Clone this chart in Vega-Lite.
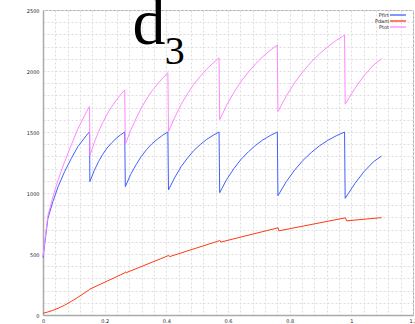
{
  "$schema": "https://vega.github.io/schema/vega-lite/v6.json",
  "width": 370,
  "height": 305,
  "autosize": {"type": "none"},
  "padding": {"left": 43, "top": 10, "right": 2, "bottom": 9},
  "background": "white",
  "config": {
    "view": {"stroke": "#aaaaaa", "strokeWidth": 1},
    "axis": {
      "grid": true,
      "gridDash": [2, 2],
      "gridColor": "#dddddd",
      "gridWidth": 1,
      "domainColor": "#aaaaaa",
      "domainWidth": 1.5,
      "ticks": false,
      "labelFontSize": 5,
      "labelFont": "DejaVu Sans",
      "labelColor": "#222222",
      "labelOverlap": false,
      "labelFlush": false,
      "title": null
    }
  },
  "layer": [
    {
      "data": {
        "values": [
          {"s": "Pfirt", "x": 0, "y": 470}, {"s": "Pfirt", "x": 0.016, "y": 793}, {"s": "Pfirt", "x": 0.032, "y": 929}, {"s": "Pfirt", "x": 0.049, "y": 1052}, {"s": "Pfirt", "x": 0.07, "y": 1175}, {"s": "Pfirt", "x": 0.092, "y": 1284}, {"s": "Pfirt", "x": 0.113, "y": 1380}, {"s": "Pfirt", "x": 0.146, "y": 1489}, {"s": "Pfirt", "x": 0.151, "y": 1500},
          {"s": "Pfirt", "x": 0.152, "y": 1093}, {"s": "Pfirt", "x": 0.166, "y": 1183}, {"s": "Pfirt", "x": 0.18, "y": 1257}, {"s": "Pfirt", "x": 0.194, "y": 1318}, {"s": "Pfirt", "x": 0.208, "y": 1369}, {"s": "Pfirt", "x": 0.223, "y": 1412}, {"s": "Pfirt", "x": 0.237, "y": 1447}, {"s": "Pfirt", "x": 0.251, "y": 1476}, {"s": "Pfirt", "x": 0.265, "y": 1500},
          {"s": "Pfirt", "x": 0.267, "y": 1052}, {"s": "Pfirt", "x": 0.284, "y": 1151}, {"s": "Pfirt", "x": 0.302, "y": 1232}, {"s": "Pfirt", "x": 0.319, "y": 1300}, {"s": "Pfirt", "x": 0.336, "y": 1356}, {"s": "Pfirt", "x": 0.353, "y": 1403}, {"s": "Pfirt", "x": 0.371, "y": 1441}, {"s": "Pfirt", "x": 0.388, "y": 1474}, {"s": "Pfirt", "x": 0.405, "y": 1500},
          {"s": "Pfirt", "x": 0.407, "y": 1025}, {"s": "Pfirt", "x": 0.428, "y": 1130}, {"s": "Pfirt", "x": 0.448, "y": 1216}, {"s": "Pfirt", "x": 0.469, "y": 1288}, {"s": "Pfirt", "x": 0.489, "y": 1348}, {"s": "Pfirt", "x": 0.51, "y": 1397}, {"s": "Pfirt", "x": 0.53, "y": 1438}, {"s": "Pfirt", "x": 0.551, "y": 1472}, {"s": "Pfirt", "x": 0.571, "y": 1500},
          {"s": "Pfirt", "x": 0.573, "y": 1003}, {"s": "Pfirt", "x": 0.596, "y": 1112}, {"s": "Pfirt", "x": 0.62, "y": 1203}, {"s": "Pfirt", "x": 0.643, "y": 1278}, {"s": "Pfirt", "x": 0.667, "y": 1340}, {"s": "Pfirt", "x": 0.69, "y": 1392}, {"s": "Pfirt", "x": 0.713, "y": 1435}, {"s": "Pfirt", "x": 0.737, "y": 1471}, {"s": "Pfirt", "x": 0.76, "y": 1500},
          {"s": "Pfirt", "x": 0.762, "y": 978}, {"s": "Pfirt", "x": 0.789, "y": 1093}, {"s": "Pfirt", "x": 0.816, "y": 1188}, {"s": "Pfirt", "x": 0.843, "y": 1267}, {"s": "Pfirt", "x": 0.87, "y": 1332}, {"s": "Pfirt", "x": 0.897, "y": 1387}, {"s": "Pfirt", "x": 0.924, "y": 1432}, {"s": "Pfirt", "x": 0.951, "y": 1469}, {"s": "Pfirt", "x": 0.978, "y": 1500},
          {"s": "Pfirt", "x": 0.98, "y": 956}, {"s": "Pfirt", "x": 1.011, "y": 1076}, {"s": "Pfirt", "x": 1.041, "y": 1175}, {"s": "Pfirt", "x": 1.072, "y": 1257}, {"s": "Pfirt", "x": 1.098, "y": 1303},
          {"s": "Pdam", "x": 0, "y": 14}, {"s": "Pdam", "x": 0.016, "y": 25}, {"s": "Pdam", "x": 0.032, "y": 38}, {"s": "Pdam", "x": 0.049, "y": 55}, {"s": "Pdam", "x": 0.07, "y": 80}, {"s": "Pdam", "x": 0.092, "y": 112}, {"s": "Pdam", "x": 0.113, "y": 145}, {"s": "Pdam", "x": 0.146, "y": 200}, {"s": "Pdam", "x": 0.152, "y": 212},
          {"s": "Pdam", "x": 0.265, "y": 345}, {"s": "Pdam", "x": 0.267, "y": 354}, {"s": "Pdam", "x": 0.27, "y": 347},
          {"s": "Pdam", "x": 0.405, "y": 485}, {"s": "Pdam", "x": 0.407, "y": 491}, {"s": "Pdam", "x": 0.41, "y": 478},
          {"s": "Pdam", "x": 0.571, "y": 608}, {"s": "Pdam", "x": 0.573, "y": 613}, {"s": "Pdam", "x": 0.577, "y": 598},
          {"s": "Pdam", "x": 0.76, "y": 713}, {"s": "Pdam", "x": 0.762, "y": 717}, {"s": "Pdam", "x": 0.765, "y": 690},
          {"s": "Pdam", "x": 0.978, "y": 795}, {"s": "Pdam", "x": 0.98, "y": 799}, {"s": "Pdam", "x": 0.985, "y": 772},
          {"s": "Pdam", "x": 1.098, "y": 798},
          {"s": "Ptot", "x": 0, "y": 484}, {"s": "Ptot", "x": 0.016, "y": 818}, {"s": "Ptot", "x": 0.032, "y": 967}, {"s": "Ptot", "x": 0.049, "y": 1107}, {"s": "Ptot", "x": 0.07, "y": 1255}, {"s": "Ptot", "x": 0.092, "y": 1396}, {"s": "Ptot", "x": 0.113, "y": 1525}, {"s": "Ptot", "x": 0.146, "y": 1689}, {"s": "Ptot", "x": 0.151, "y": 1710},
          {"s": "Ptot", "x": 0.152, "y": 1305}, {"s": "Ptot", "x": 0.166, "y": 1412}, {"s": "Ptot", "x": 0.18, "y": 1502}, {"s": "Ptot", "x": 0.194, "y": 1579}, {"s": "Ptot", "x": 0.208, "y": 1647}, {"s": "Ptot", "x": 0.223, "y": 1708}, {"s": "Ptot", "x": 0.237, "y": 1759}, {"s": "Ptot", "x": 0.251, "y": 1805}, {"s": "Ptot", "x": 0.265, "y": 1845},
          {"s": "Ptot", "x": 0.267, "y": 1399}, {"s": "Ptot", "x": 0.284, "y": 1512}, {"s": "Ptot", "x": 0.302, "y": 1612}, {"s": "Ptot", "x": 0.319, "y": 1697}, {"s": "Ptot", "x": 0.336, "y": 1771}, {"s": "Ptot", "x": 0.353, "y": 1835}, {"s": "Ptot", "x": 0.371, "y": 1891}, {"s": "Ptot", "x": 0.388, "y": 1942}, {"s": "Ptot", "x": 0.405, "y": 1985},
          {"s": "Ptot", "x": 0.407, "y": 1503}, {"s": "Ptot", "x": 0.428, "y": 1623}, {"s": "Ptot", "x": 0.448, "y": 1726}, {"s": "Ptot", "x": 0.469, "y": 1815}, {"s": "Ptot", "x": 0.489, "y": 1891}, {"s": "Ptot", "x": 0.51, "y": 1956}, {"s": "Ptot", "x": 0.53, "y": 2013}, {"s": "Ptot", "x": 0.551, "y": 2064}, {"s": "Ptot", "x": 0.571, "y": 2108},
          {"s": "Ptot", "x": 0.573, "y": 1601}, {"s": "Ptot", "x": 0.596, "y": 1722}, {"s": "Ptot", "x": 0.62, "y": 1828}, {"s": "Ptot", "x": 0.643, "y": 1918}, {"s": "Ptot", "x": 0.667, "y": 1994}, {"s": "Ptot", "x": 0.69, "y": 2061}, {"s": "Ptot", "x": 0.713, "y": 2118}, {"s": "Ptot", "x": 0.737, "y": 2169}, {"s": "Ptot", "x": 0.76, "y": 2213},
          {"s": "Ptot", "x": 0.762, "y": 1668}, {"s": "Ptot", "x": 0.789, "y": 1795}, {"s": "Ptot", "x": 0.816, "y": 1903}, {"s": "Ptot", "x": 0.843, "y": 1996}, {"s": "Ptot", "x": 0.87, "y": 2074}, {"s": "Ptot", "x": 0.897, "y": 2142}, {"s": "Ptot", "x": 0.924, "y": 2200}, {"s": "Ptot", "x": 0.951, "y": 2251}, {"s": "Ptot", "x": 0.978, "y": 2295},
          {"s": "Ptot", "x": 0.98, "y": 1728}, {"s": "Ptot", "x": 1.011, "y": 1855}, {"s": "Ptot", "x": 1.041, "y": 1961}, {"s": "Ptot", "x": 1.072, "y": 2049}, {"s": "Ptot", "x": 1.098, "y": 2101}
        ]
      },
      "mark": {"type": "line", "strokeWidth": 1},
      "encoding": {
        "x": {
          "field": "x", "type": "quantitative",
          "scale": {"domain": [0, 1.2], "nice": false, "zero": false},
          "axis": {
            "values": [0, 0.04, 0.08, 0.12, 0.16, 0.2, 0.24, 0.28, 0.32, 0.36, 0.4, 0.44, 0.48, 0.52, 0.56, 0.6, 0.64, 0.68, 0.72, 0.76, 0.8, 0.84, 0.88, 0.92, 0.96, 1, 1.04, 1.08, 1.12, 1.16, 1.2],
            "labelExpr": "round(datum.value*100) % 20 === 0 ? '' + round(datum.value*10)/10 : ''",
            "labelPadding": 3
          }
        },
        "y": {
          "field": "y", "type": "quantitative",
          "scale": {"domain": [0, 2500], "nice": false},
          "axis": {
            "values": [0, 100, 200, 300, 400, 500, 600, 700, 800, 900, 1000, 1100, 1200, 1300, 1400, 1500, 1600, 1700, 1800, 1900, 2000, 2100, 2200, 2300, 2400, 2500],
            "labelExpr": "datum.value % 500 === 0 ? '' + datum.value : ''",
            "labelPadding": 4
          }
        },
        "color": {
          "field": "s", "type": "nominal",
          "scale": {"domain": ["Pfirt", "Pdam", "Ptot"], "range": ["#4060ff", "#ff3a14", "#ff88ff"]},
          "legend": {
            "orient": "none", "legendX": 352, "legendY": 2, "title": null,
            "symbolType": "M-4,0H4", "symbolSize": 16, "symbolStrokeWidth": 1.3,
            "labelFontSize": 5, "labelFont": "DejaVu Sans", "labelColor": "#222222",
            "labelAlign": "right", "labelOffset": -12, "rowPadding": 0, "padding": 0
          }
        }
      }
    },
    {
      "data": {"values": [{}]},
      "mark": {"type": "text", "text": "d", "font": "Liberation Serif", "fontSize": 66, "align": "left", "baseline": "alphabetic", "color": "black"},
      "encoding": {
        "x": {"datum": 0.29, "type": "quantitative", "axis": {
            "values": [0, 0.04, 0.08, 0.12, 0.16, 0.2, 0.24, 0.28, 0.32, 0.36, 0.4, 0.44, 0.48, 0.52, 0.56, 0.6, 0.64, 0.68, 0.72, 0.76, 0.8, 0.84, 0.88, 0.92, 0.96, 1, 1.04, 1.08, 1.12, 1.16, 1.2],
            "labelExpr": "round(datum.value*100) % 20 === 0 ? '' + round(datum.value*10)/10 : ''",
            "labelPadding": 3}},
        "y": {"datum": 2221, "type": "quantitative", "axis": {
            "values": [0, 100, 200, 300, 400, 500, 600, 700, 800, 900, 1000, 1100, 1200, 1300, 1400, 1500, 1600, 1700, 1800, 1900, 2000, 2100, 2200, 2300, 2400, 2500],
            "labelExpr": "datum.value % 500 === 0 ? '' + datum.value : ''",
            "labelPadding": 4}}
      }
    },
    {
      "data": {"values": [{}]},
      "mark": {"type": "text", "text": "3", "font": "Liberation Serif", "fontSize": 40, "align": "left", "baseline": "alphabetic", "color": "black"},
      "encoding": {
        "x": {"datum": 0.395, "type": "quantitative", "axis": {
            "values": [0, 0.04, 0.08, 0.12, 0.16, 0.2, 0.24, 0.28, 0.32, 0.36, 0.4, 0.44, 0.48, 0.52, 0.56, 0.6, 0.64, 0.68, 0.72, 0.76, 0.8, 0.84, 0.88, 0.92, 0.96, 1, 1.04, 1.08, 1.12, 1.16, 1.2],
            "labelExpr": "round(datum.value*100) % 20 === 0 ? '' + round(datum.value*10)/10 : ''",
            "labelPadding": 3}},
        "y": {"datum": 2057, "type": "quantitative", "axis": {
            "values": [0, 100, 200, 300, 400, 500, 600, 700, 800, 900, 1000, 1100, 1200, 1300, 1400, 1500, 1600, 1700, 1800, 1900, 2000, 2100, 2200, 2300, 2400, 2500],
            "labelExpr": "datum.value % 500 === 0 ? '' + datum.value : ''",
            "labelPadding": 4}}
      }
    }
  ]
}
